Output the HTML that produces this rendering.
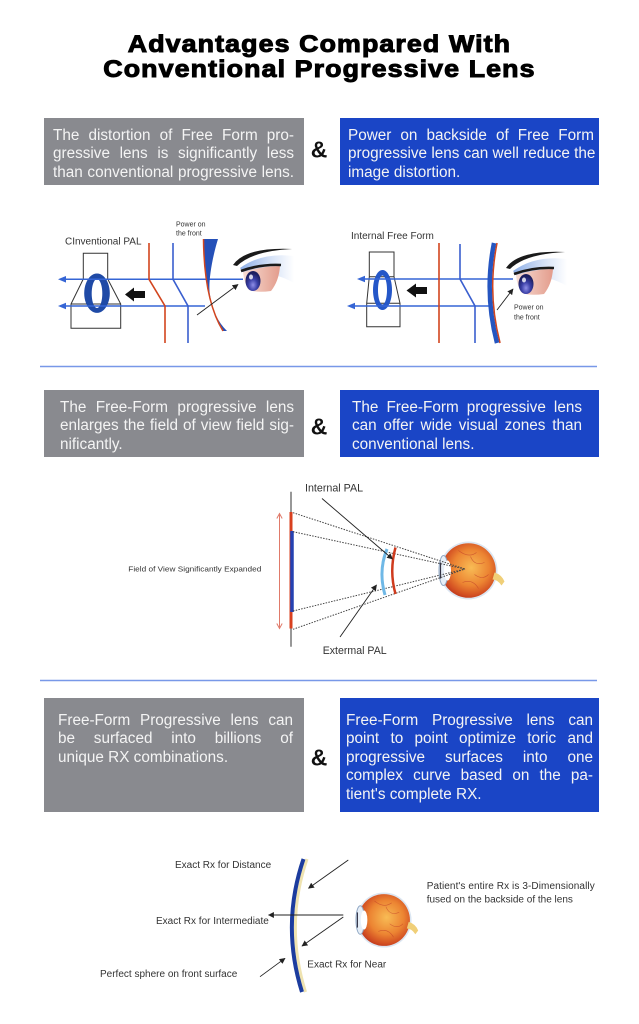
<!DOCTYPE html>
<html><head><meta charset="utf-8">
<style>
html,body{margin:0;padding:0;background:#fff;}
body{width:639px;height:1024px;position:relative;overflow:hidden;font-family:"Liberation Sans",Arial,sans-serif;}
.t{position:absolute;left:0;width:639px;text-align:center;font-weight:bold;font-size:24px;line-height:25px;letter-spacing:1px;-webkit-text-stroke:1px #000;color:#000;transform:scaleX(1.115);transform-origin:320px 0;white-space:nowrap;}
.box{position:absolute;box-sizing:border-box;color:#f4f4f4;font-size:15.3px;line-height:18.5px;}
.g{background:#898a8f;}
.b{background:#1a45c6;}
.box div{white-space:nowrap;text-align:justify;text-align-last:justify;}
.box div.l{text-align:left;text-align-last:left;}
</style></head><body>

<div class="t" style="top:32px">Advantages Compared With</div>
<div class="t" style="top:56.5px">Conventional Progressive Lens</div>

<!-- Row 1 -->
<div class="box g" style="left:44px;top:118px;width:260px;height:67px;padding:8.9px 10px 0 9px;">
<div>The distortion of Free Form pro-</div>
<div>gressive lens is significantly less</div>
<div>than conventional progressive lens.</div>
</div>
<div class="box b" style="left:340px;top:118px;width:259px;height:67px;padding:8.9px 5px 0 8px;">
<div>Power on backside of Free Form</div>
<div>progressive lens can well reduce the</div>
<div class="l">image distortion.</div>
</div>

<!-- Row 2 -->
<div class="box g" style="left:44px;top:390px;width:260px;height:67px;padding:8.5px 10px 0 16px;">
<div>The Free-Form progressive lens</div>
<div>enlarges the field of view field sig-</div>
<div class="l">nificantly.</div>
</div>
<div class="box b" style="left:340px;top:390px;width:259px;height:67px;padding:8.5px 17px 0 12px;">
<div>The Free-Form progressive lens</div>
<div>can offer wide visual zones than</div>
<div class="l">conventional lens.</div>
</div>

<!-- Row 3 -->
<div class="box g" style="left:44px;top:698px;width:260px;height:114px;padding:13.9px 11px 0 14px;">
<div>Free-Form Progressive lens can</div>
<div>be surfaced into billions of</div>
<div class="l">unique RX combinations.</div>
</div>
<div class="box b" style="left:340px;top:698px;width:259px;height:114px;padding:13.9px 6px 0 6px;">
<div>Free-Form Progressive lens can</div>
<div>point to point optimize toric and</div>
<div>progressive surfaces into one</div>
<div>complex curve based on the pa-</div>
<div class="l">tient's complete RX.</div>
</div>

<svg width="639" height="1024" viewBox="0 0 639 1024" style="position:absolute;left:0;top:0" font-family="Liberation Sans, Arial, sans-serif">
<defs>
 <marker id="ah" viewBox="0 0 10 10" refX="9" refY="5" markerWidth="6" markerHeight="6" markerUnits="userSpaceOnUse" orient="auto"><path d="M0,0 L10,5 L0,10 Z" fill="#222"/></marker>
 <linearGradient id="eyeblue" x1="0" y1="0" x2="1" y2="0">
  <stop offset="0" stop-color="#8caee6"/><stop offset="0.55" stop-color="#d3e0f6"/><stop offset="1" stop-color="#ffffff"/>
 </linearGradient>
 <linearGradient id="eyepink" x1="0" y1="0" x2="1" y2="0">
  <stop offset="0" stop-color="#f7ddd4"/><stop offset="1" stop-color="#e39c8c"/>
 </linearGradient>
 <radialGradient id="iris" cx="0.5" cy="0.7" r="0.6">
  <stop offset="0" stop-color="#8f8fe8"/><stop offset="0.5" stop-color="#3a3fa6"/><stop offset="1" stop-color="#1b1e5e"/>
 </radialGradient>
 <radialGradient id="ballg" cx="0.55" cy="0.45" r="0.6">
  <stop offset="0" stop-color="#f8bc55"/><stop offset="0.55" stop-color="#ec8432"/><stop offset="0.85" stop-color="#d24e22"/><stop offset="1" stop-color="#b8321c"/>
 </radialGradient>
 <g id="aeye">
  <path d="M240,268 Q262,252 294,256 L294,283 Q272,270 244,273 Z" fill="url(#eyeblue)"/>
  <path d="M233,265 Q245,247 292,249 Q252,251 237,266 Z" fill="#1a1a1a"/>
  <path d="M243,272 Q262,266 280,266 Q279,281 271,291 Q257,293 249,290 Q244,283 243,272 Z" fill="url(#eyepink)"/>
  <ellipse cx="253" cy="281" rx="7.5" ry="10" fill="url(#iris)"/>
  <ellipse cx="251" cy="277" rx="2" ry="2.5" fill="#fff" opacity=".8"/>
  <path d="M241,271 Q260,264 281,265" stroke="#1a1a1a" stroke-width="2.6" fill="none"/>
 </g>
 <g id="ball">
  <circle r="29" fill="#dbe6f2"/>
  <circle r="27.3" fill="url(#ballg)"/>
  <path d="M-10,-20 Q0,-12 8,-18 M2,-14 Q6,-4 16,-8 M-6,12 Q4,8 10,18 M6,4 Q14,10 20,4" stroke="#c2402a" stroke-width="0.6" fill="none" opacity=".7"/>
  <path d="M26,2 Q33,4 36,11 L33,15 Q29,9 24,9 Z" fill="#f0cf78"/>
  <ellipse cx="-25" cy="0" rx="4.5" ry="15" fill="#e6eef7" stroke="#8fa7c4" stroke-width="1"/>
  <ellipse cx="-21" cy="0" rx="3.5" ry="10" fill="#ffffff"/>
  <path d="M-28,-8 L-28,8" stroke="#334" stroke-width="1.2"/>
 </g>
</defs>

<!-- ampersands -->
<g font-weight="bold" font-size="23" fill="#111" text-anchor="middle">
 <text x="319" y="157.5">&amp;</text>
 <text x="319" y="434.5">&amp;</text>
 <text x="319" y="765.5">&amp;</text>
</g>

<!-- separators -->
<line x1="40" y1="366.5" x2="597" y2="366.5" stroke="#7898e8" stroke-width="1.5"/>
<line x1="40" y1="680.5" x2="597" y2="680.5" stroke="#7898e8" stroke-width="1.5"/>

<!-- ===== Diagram 1 left ===== -->
<text x="65" y="244.3" font-size="10" fill="#333">CInventional PAL</text>
<text x="176" y="226.5" font-size="7" fill="#333">Power on</text>
<text x="176" y="235.5" font-size="7" fill="#333">the front</text>
<path d="M83.3,253.3 H107.7 V279 L120.7,304 V328.3 H71 V304 L83.3,279 Z M71,304 H120.7" fill="none" stroke="#333" stroke-width="1"/>
<path fill-rule="evenodd" fill="#1f4aa6" d="M97,273.5 a12.8,19.7 0 1,0 0.01,0 Z M97,279 a5.3,14.5 0 1,1 -0.01,0 Z"/>
<line x1="64" y1="279.3" x2="243" y2="279.3" stroke="#3565d5" stroke-width="1.5"/>
<polygon points="58,279.3 66,276 66,282.6" fill="#3565d5"/>
<line x1="64" y1="306" x2="205" y2="306" stroke="#3565d5" stroke-width="1.5"/>
<polygon points="58,306 66,302.7 66,309.3" fill="#3565d5"/>
<polygon points="125,294.5 134,287.5 134,291 145,291 145,298 134,298 134,301.5" fill="#111"/>
<polyline points="149,243 149,279.3 165,306 165,343" fill="none" stroke="#d2451e" stroke-width="1.6"/>
<polyline points="173,243 173,279.3 188,306 188,343" fill="none" stroke="#3a5fcf" stroke-width="1.6"/>
<path d="M203.5,239 L218,239 C211,262 208,285 210,295 C212,310 218,322 227,331 L223,331 Q204,300 203.5,239 Z" fill="#2550b8"/>
<path d="M203.5,239 Q204,300 223,331" fill="none" stroke="#d2451e" stroke-width="1.5"/>
<use href="#aeye"/>
<line x1="197" y1="315" x2="238" y2="284.5" stroke="#222" stroke-width="0.9" marker-end="url(#ah)"/>

<!-- ===== Diagram 1 right ===== -->
<text x="351" y="239" font-size="10" fill="#333">Internal Free Form</text>
<path d="M369.3,252 H394 V276.7 L400,303.3 V326.7 H366.7 V303.3 L369.3,276.7 Z M369.3,276.7 H394 M366.7,303.3 H400" fill="none" stroke="#333" stroke-width="1"/>
<path fill-rule="evenodd" fill="#2557c8" d="M382.5,270 a9.5,20 0 1,0 0.01,0 Z M382.5,275.5 a4.5,14.5 0 1,1 -0.01,0 Z"/>
<line x1="363" y1="279" x2="513" y2="279" stroke="#3565d5" stroke-width="1.5"/>
<polygon points="357,279 365,275.7 365,282.3" fill="#3565d5"/>
<line x1="353" y1="306" x2="492" y2="306" stroke="#3565d5" stroke-width="1.5"/>
<polygon points="347,306 355,302.7 355,309.3" fill="#3565d5"/>
<polygon points="406.5,290.5 416,283.5 416,287 427,287 427,294 416,294 416,297.5" fill="#111"/>
<line x1="439" y1="243" x2="439" y2="343" stroke="#d2451e" stroke-width="1.6"/>
<polyline points="460,244 460,279 475,306 475,343" fill="none" stroke="#3a5fcf" stroke-width="1.6"/>
<path d="M497,243 Q487,293 500,343" fill="none" stroke="#d2451e" stroke-width="1.6"/>
<path d="M494,243 Q484,293 497,343" fill="none" stroke="#2555c0" stroke-width="4.5"/>
<use href="#aeye" transform="translate(273,3)"/>
<text x="514" y="309.5" font-size="7" fill="#333">Power on</text>
<text x="514" y="319.5" font-size="7" fill="#333">the front</text>
<line x1="497" y1="310" x2="513" y2="289" stroke="#222" stroke-width="0.9" marker-end="url(#ah)"/>

<!-- ===== Diagram 2 ===== -->
<line x1="291" y1="491.7" x2="291" y2="646.7" stroke="#777" stroke-width="1.5"/>
<line x1="291" y1="512" x2="291" y2="628.5" stroke="#d8401f" stroke-width="3"/>
<line x1="292" y1="531" x2="292" y2="612" stroke="#2541b2" stroke-width="3.5"/>
<line x1="279.5" y1="514" x2="279.5" y2="628" stroke="#e07a6a" stroke-width="1"/>
<polyline points="276.8,518.5 279.5,513.5 282.2,518.5" fill="none" stroke="#e07a6a" stroke-width="1"/>
<polyline points="276.8,623.5 279.5,628.5 282.2,623.5" fill="none" stroke="#e07a6a" stroke-width="1"/>
<text x="128.3" y="571.5" font-size="7.5" fill="#333" textLength="133" lengthAdjust="spacingAndGlyphs">Field of View Significantly Expanded</text>
<use href="#ball" transform="translate(468.5,570.5)"/>
<g stroke="#444" stroke-width="1" stroke-dasharray="1.5 1.3" fill="none">
 <line x1="293" y1="512.7" x2="465" y2="569"/>
 <line x1="293" y1="531.7" x2="465" y2="569"/>
 <line x1="293" y1="611" x2="465" y2="569"/>
 <line x1="293" y1="629.3" x2="465" y2="569"/>
</g>
<path d="M387,549 Q378,571 385,595" fill="none" stroke="#6fb8e6" stroke-width="3"/>
<path d="M395.5,547.5 Q389,571 395.5,594" fill="none" stroke="#cf3b1e" stroke-width="2.5"/>
<text x="305" y="491.5" font-size="10.7" fill="#333">Internal PAL</text>
<line x1="322" y1="498.5" x2="392.5" y2="559" stroke="#222" stroke-width="0.9" marker-end="url(#ah)"/>
<text x="322.7" y="654" font-size="10.6" fill="#333">Extermal PAL</text>
<line x1="340" y1="637" x2="376.5" y2="585" stroke="#222" stroke-width="0.9" marker-end="url(#ah)"/>

<!-- ===== Diagram 3 ===== -->
<path d="M307,859 Q284.5,925 305.5,992" fill="none" stroke="#efe3b0" stroke-width="3"/>
<path d="M303.5,859 Q281,925 302,992" fill="none" stroke="#1c3c9e" stroke-width="4"/>
<use href="#ball" transform="translate(384,920) scale(0.95)"/>
<g font-size="10" fill="#333">
 <text x="175" y="867.8">Exact Rx for Distance</text>
 <text x="156" y="924.2">Exact Rx for Intermediate</text>
 <text x="100" y="976.8">Perfect sphere on front surface</text>
 <text x="307.3" y="967.5">Exact Rx for Near</text>
 <text x="426.7" y="889.2" textLength="168" lengthAdjust="spacing">Patient's entire Rx is 3-Dimensionally</text>
 <text x="426.7" y="902.5">fused on the backside of the lens</text>
</g>
<g stroke="#222" stroke-width="0.9" fill="none">
 <line x1="348.3" y1="860" x2="308.5" y2="888.3" marker-end="url(#ah)"/>
 <line x1="343.3" y1="915" x2="268.5" y2="915" marker-end="url(#ah)"/>
 <line x1="343.3" y1="917" x2="302" y2="946" marker-end="url(#ah)"/>
 <line x1="260" y1="976.7" x2="285" y2="958.3" marker-end="url(#ah)"/>
</g>
</svg>
</body></html>
